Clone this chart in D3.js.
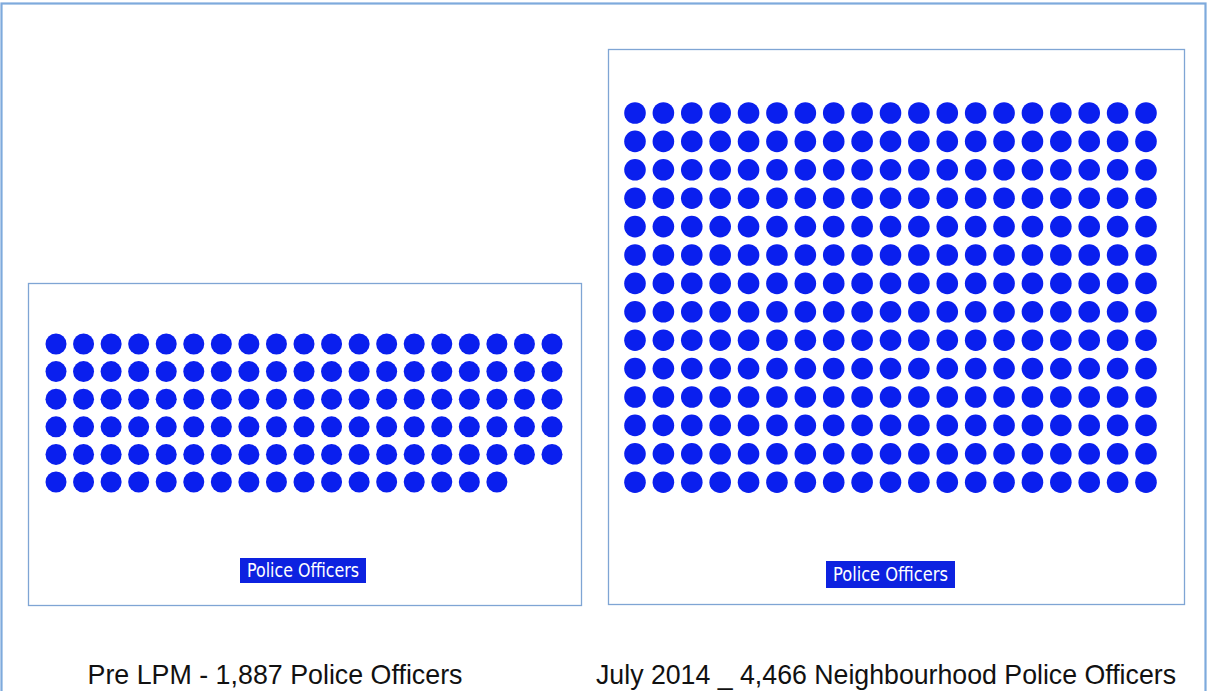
<!DOCTYPE html>
<html><head><meta charset="utf-8">
<script src="https://cdn.jsdelivr.net/npm/d3@7"></script>
<style>html,body{margin:0;padding:0;background:#fff;}svg{display:block;}</style>
</head><body>
<svg id="c" width="1209" height="691"></svg>
<script>
const panelNames = ["Pre LPM", "July 2014"];
const captions = ["Pre LPM - 1,887 Police Officers", "July 2014 _ 4,466 Neighbourhood Police Officers"];
const officers = [1887, 4466];
const dotCounts = [112, 266];
const dotColumns = [19, 19];
const legendLabels = ["Police Officers", "Police Officers"];

const svg = d3.select("#c");
const blue = "#0a1fee";

// outer frame
svg.append("rect").attr("x",1.5).attr("y",3.5).attr("width",1204).attr("height",700)
  .attr("fill","none").attr("stroke","#7eaadc").attr("stroke-width",2.2);

const layout = [
  {box:[28,283,553,322], x:[56,552], y0:344, step:27.6, r:10.5, label:[240,558,126,25], cap:275, capLen:375},
  {box:[608,49,576,555], x:[635,1146], y0:113, step:28.4, r:10.8, label:[826,561,129,27], cap:886, capLen:580}
];

layout.forEach((L,i)=>{
  const g = svg.append("g");
  g.append("rect").attr("x",L.box[0]+0.5).attr("y",L.box[1]+0.5).attr("width",L.box[2]).attr("height",L.box[3])
    .attr("fill","#fff").attr("stroke","#7fa5d4").attr("stroke-width",1.3);
  const cols = dotColumns[i];
  const rows = Math.ceil(dotCounts[i]/cols);
  const xs = d3.scaleLinear().domain([0,cols-1]).range(L.x);
  const ys = d3.scaleLinear().domain([0,rows-1]).range([L.y0, L.y0 + L.step*(rows-1)]);
  const dots = d3.range(dotCounts[i]).map(k=>({c:k%cols, r:Math.floor(k/cols)}));
  g.selectAll("circle").data(dots).join("circle")
    .attr("cx",d=>xs(d.c)).attr("cy",d=>ys(d.r)).attr("r",L.r).attr("fill",blue);
  g.append("rect").attr("x",L.label[0]).attr("y",L.label[1]).attr("width",L.label[2]).attr("height",L.label[3])
    .attr("fill","#0d22e0");
  g.append("text").attr("x",L.label[0]+L.label[2]/2).attr("y",L.label[1]+L.label[3]/2+6.5)
    .attr("text-anchor","middle").attr("fill","#fff")
    .attr("textLength", L.label[2]-14).attr("lengthAdjust","spacingAndGlyphs")
    .style("font-family","'DejaVu Sans Condensed','Liberation Sans',sans-serif").style("font-size","19px")
    .text(legendLabels[i]);
  svg.append("text").attr("x",L.cap).attr("y",684).attr("text-anchor","middle").attr("fill","#111")
    .attr("textLength", L.capLen).attr("lengthAdjust","spacingAndGlyphs")
    .style("font-family","'Liberation Sans',sans-serif").style("font-size","28px")
    .text(captions[i]);
});
</script>
</body></html>
